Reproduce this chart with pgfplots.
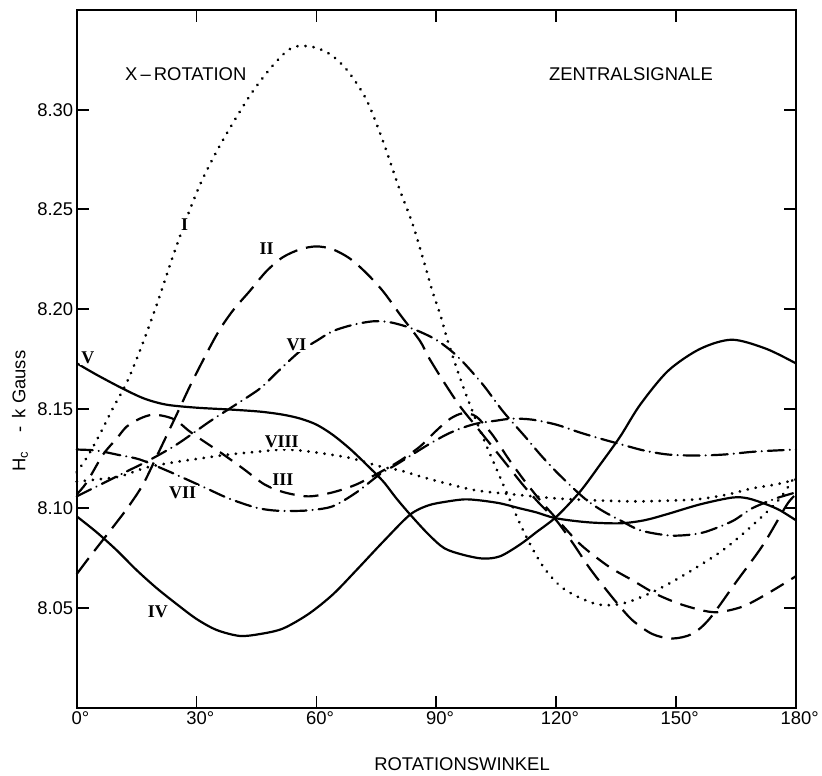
\documentclass[border=0pt]{standalone}
\usepackage{fontspec}
\setmainfont{Liberation Sans}
\newfontfamily\romfont{Liberation Serif}
\usepackage{pgfplots}
\pgfplotsset{compat=1.18}
\tikzset{
  solidc/.style={line width=2.2bp, black, smooth},
  dashII/.style={line width=2.2bp, black, smooth, dash pattern=on 20bp off 9bp},
  dashIII/.style={line width=2.2bp, black, smooth, dash pattern=on 15bp off 9bp},
  dashdot/.style={line width=2.2bp, black, smooth, dash pattern=on 16bp off 6bp on 0.1bp off 6bp, line cap=round},
  dotc/.style={line width=3bp, black, smooth, dash pattern=on 0.1bp off 8bp, line cap=round},
  lab/.style={font=\romfont\bfseries\fontsize{18}{20}\selectfont, fill=white, inner sep=1.5bp},
  txt/.style={font=\fontsize{18.5}{20}\selectfont},
}
\begin{document}
\begin{tikzpicture}
\begin{axis}[
  scale only axis, width=719.3bp, height=697.7bp,
  xmin=0, xmax=180, ymin=8.0, ymax=8.35,
  axis line style={line width=2bp},
  xtick={0,30,60,90,120,150,180},
  xticklabels={0\rlap{°},30\rlap{°},60\rlap{°},90\rlap{°},120\rlap{°},150\rlap{°},180\rlap{°}},
  ytick={8.05,8.10,8.15,8.20,8.25,8.30},
  yticklabels={8.05,8.10,8.15,8.20,8.25,8.30},
  tick align=inside, major tick length=12bp,
  tick style={line width=1.8bp, black},
  ticklabel style={font=\fontsize{18.5}{20}\selectfont},
  clip=false,
]
\coordinate (SW) at (rel axis cs:0,0);
\coordinate (NE) at (rel axis cs:1,1);

% I (dotted)
\addplot[dotc] coordinates {
(0,8.118) (3,8.127) (6,8.138) (9,8.150) (12.5,8.163) (16,8.180) (20,8.202) (24,8.226)
(27.4,8.245) (31,8.263) (35,8.279) (39,8.293) (44,8.309) (49,8.322) (53,8.330) (56,8.332)
(60,8.331) (64,8.327) (68,8.319) (72.5,8.305) (76.5,8.285) (80.8,8.260) (84,8.243) (87,8.223)
(89,8.209) (91,8.197) (93,8.183) (96,8.165) (98.4,8.152) (102,8.134) (105,8.120) (108,8.106)
(111,8.092) (114,8.080) (117,8.070) (121,8.061) (125,8.056) (130,8.052) (134,8.0515) (138,8.053)
(143,8.057) (148,8.062) (154,8.069) (161,8.078) (166,8.086) (171,8.095) (176,8.105) (180,8.117)};

% II (long dashes)
\addplot[dashII] coordinates {
(0,8.067) (3,8.075) (6.5,8.084) (10,8.093) (13,8.101) (16.6,8.112) (20,8.126) (25,8.147)
(29,8.164) (35,8.187) (39,8.199) (43.3,8.209) (47.5,8.219) (51.6,8.226) (56,8.230) (60,8.2314)
(64,8.230) (68.3,8.2254) (72.5,8.218) (76.7,8.2088) (81,8.197) (85.9,8.184) (88,8.176) (92,8.163)
(96,8.151) (100,8.141) (104,8.131) (108,8.121) (112,8.111) (116,8.102) (120,8.094) (124,8.083)
(128,8.071) (131,8.063) (135,8.053) (139,8.044) (144,8.037) (149,8.0347) (154,8.037) (158.4,8.0447)
(165,8.063) (171.8,8.0818) (177.7,8.1018) (180,8.107)};

% III (short dashes)
\addplot[dashIII] coordinates {
(0,8.107) (2.5,8.113) (6.6,8.127) (10,8.135) (12.5,8.141) (15.8,8.145) (19,8.147) (22.5,8.146)
(25,8.144) (28,8.139) (30.8,8.135) (36,8.128) (41.6,8.120) (47,8.112) (52,8.108) (58,8.106)
(64,8.108) (70,8.112) (76.7,8.119) (81,8.124) (85.9,8.131) (90,8.139) (93.5,8.145) (96.7,8.1477)
(100,8.146) (104,8.137) (108,8.125) (112,8.114) (116,8.104) (120,8.095) (126,8.082) (133,8.071)
(139,8.064) (145,8.057) (151,8.052) (157,8.0486) (161,8.048) (167,8.051) (173.5,8.058) (180,8.066)};

% IV (solid)
\addplot[solidc] coordinates {
(0,8.096) (5,8.088) (10,8.079) (15,8.069) (20,8.060) (25,8.052) (30,8.0445) (35,8.039)
(40.8,8.036) (46,8.037) (51.6,8.0397) (58,8.047) (64.1,8.0568) (70,8.069)
(76.7,8.0833) (83.4,8.0968) (88,8.1015) (92.6,8.1034) (97,8.1045) (100.9,8.104) (106,8.1025) (110.9,8.100)
(115,8.098) (120,8.095) (128,8.093) (136,8.0925) (142,8.094) (147.6,8.097) (156,8.102) (164,8.1054)
(168,8.105) (172.6,8.102) (176,8.099) (180,8.094)};

% V (solid)
\addplot[solidc] coordinates {
(0,8.1728) (5,8.167) (11.6,8.160) (17,8.155) (22.5,8.152) (30,8.1505) (39,8.1495) (46,8.1485)
(51.6,8.147) (56,8.145) (60,8.142) (64,8.137) (68.3,8.130) (72.5,8.122) (76.7,8.1135) (80,8.105)
(83.4,8.097) (88,8.087) (92,8.080) (96.7,8.0767) (101.7,8.0748) (106,8.076) (110.9,8.0818) (115,8.088)
(120.1,8.0959) (126,8.1085) (131,8.122) (136,8.136) (141,8.152) (148,8.169) (156,8.180) (164,8.1846)
(172.6,8.180) (180,8.1727)};

% VI (dash-dot)
\addplot[dashdot] coordinates {
(0,8.106) (6,8.112) (12.5,8.1185) (18,8.124) (25,8.132) (33.3,8.1436) (39,8.151) (45.8,8.160)
(50,8.168) (55.8,8.1787) (60,8.184) (64,8.1888) (69,8.192) (74,8.1938) (78,8.1935) (82,8.1915)
(86,8.1885) (90.4,8.184) (95.4,8.176) (101.4,8.1627) (106.7,8.1486) (112.2,8.136) (116,8.127) (119.7,8.119)
(124.3,8.110) (128,8.1035) (131.8,8.0985) (136,8.094) (141,8.089) (147.6,8.0865) (152,8.0865) (157,8.088)
(164,8.0935) (169,8.100) (175,8.105) (180,8.108)};

% VII (dash-dot)
\addplot[dashdot] coordinates {
(0,8.1295) (5,8.129) (10,8.127) (15.8,8.1245) (22.5,8.119) (27,8.115) (32.5,8.110) (38,8.105)
(44.6,8.1005) (49,8.099) (53.3,8.0987) (58,8.099) (64,8.101) (70,8.108) (75.8,8.117) (80,8.122)
(84,8.127) (88,8.132) (92.5,8.137) (96,8.140) (100,8.1425) (105,8.144) (109,8.145) (114,8.1445)
(120,8.142) (126,8.138) (131,8.135) (136.4,8.132) (142,8.129) (148,8.127) (155,8.1265) (162,8.127)
(170,8.1285) (180,8.1295)};

% VIII (dotted)
\addplot[dotc] coordinates {
(0,8.1134) (5,8.1145) (10.8,8.116) (17.5,8.1205) (24,8.123) (30.8,8.125) (38,8.127) (45.8,8.1285)
(51.6,8.1295) (56,8.129) (60,8.128) (65,8.1265) (69,8.125) (76,8.121) (81,8.119) (86,8.116)
(92.5,8.1125) (100,8.109) (109.2,8.107) (120,8.105) (130,8.104) (140,8.1035) (150,8.104) (156,8.1047)
(163,8.107) (169,8.110) (175,8.112) (180,8.1145)};

% curve labels
\node[lab] at (axis cs:27,8.2425) {I};
\node[lab] at (axis cs:47.5,8.2305) {II};
\node[lab] at (axis cs:51.6,8.1145) {III};
\node[lab] at (axis cs:20.3,8.048) {IV};
\node[lab] at (axis cs:2.8,8.1755) {V};
\node[lab] at (axis cs:55,8.182) {VI};
\node[lab] at (axis cs:26.5,8.108) {VII};
\node[lab] at (axis cs:51.3,8.1335) {VIII};

% texts
\node[txt] at (axis cs:27.3,8.3177) {X\,--\,ROTATION};
\node[txt] at (axis cs:138.7,8.3177) {ZENTRALSIGNALE};
\node[txt, rotate=90] at (rel axis cs:-0.0788,0.4253) {H\textsubscript{c}\hspace{1em}-\hspace{0.45em}k Gauss};
\node[txt] at (rel axis cs:0.5357,-0.0807) {ROTATIONSWINKEL};
\end{axis}
\pgfresetboundingbox
\path[use as bounding box] ([shift={(-76.7bp,-68.3bp)}]SW) rectangle ([shift={(26bp,10bp)}]NE);
\end{tikzpicture}
\end{document}
